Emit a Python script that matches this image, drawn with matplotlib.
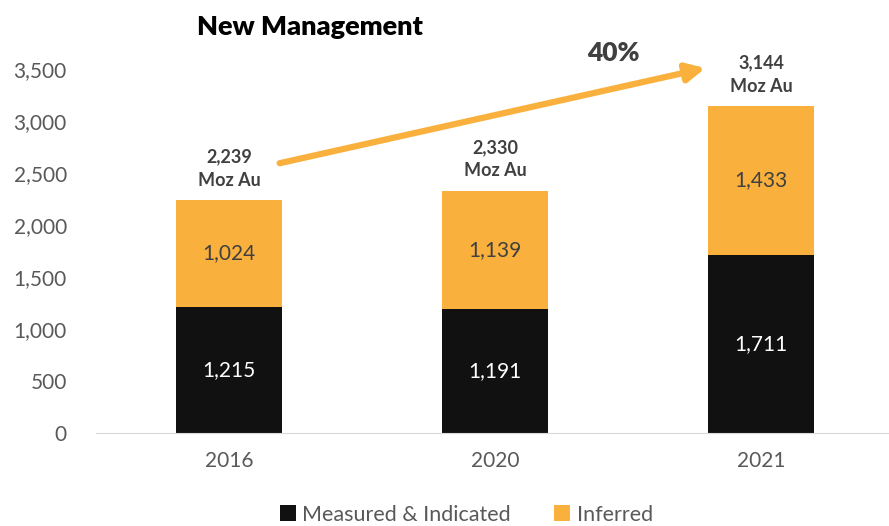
import matplotlib
matplotlib.use("Agg")
import matplotlib.pyplot as plt
import numpy as np

plt.rcParams["font.family"] = ["Lato", "DejaVu Sans"]

# ============================================================
# DATA
# ============================================================

years = ["2016", "2020", "2021"]
measured = [1215, 1191, 1711]
inferred = [1024, 1139, 1433]
totals = [2239, 2330, 3144]
growth_label = "40%"

BLACK = "#111111"
ORANGE = "#FAB03C"
GRAY = "#595959"
DARK = "#404040"

# ============================================================
# FIGURE
# ============================================================

fig = plt.figure(figsize=(8.89, 5.26), dpi=100)
ax = fig.add_axes([0.108, 0.1768, 0.892, 0.692])

x = np.arange(len(years))
width = 0.4

ax.bar(x, measured, width, color=BLACK, label="Measured & Indicated")
ax.bar(x, inferred, width, bottom=measured, color=ORANGE, label="Inferred")

for i in range(len(years)):
    ax.text(x[i], measured[i] / 2, f"{measured[i]:,}", ha="center", va="center",
            color="white", fontsize=15)
    ax.text(x[i], measured[i] + inferred[i] / 2, f"{inferred[i]:,}", ha="center",
            va="center", color=DARK, fontsize=15)
    ax.text(x[i], totals[i] + 110, f"{totals[i]:,}\nMoz Au", ha="center", va="bottom",
            color=DARK, fontsize=13, fontweight="bold", linespacing=1.45, clip_on=False)

# growth arrow from top of 2016 bar to top of 2021 bar
ax.annotate("", xy=(x[2] - width / 2 - 0.01, totals[2] + 365),
            xytext=(x[0] + width / 2 - 0.01, totals[0] + 355),
            arrowprops=dict(arrowstyle="-|>,head_length=1.1,head_width=0.55",
                            color=ORANGE, lw=4.5, shrinkA=0, shrinkB=0),
            annotation_clip=False)
ax.text(1.445, 3650, growth_label, ha="center", va="center", color=DARK,
        fontsize=19, fontweight="heavy", clip_on=False)

fig.text(0.349, 0.948, "New Management", ha="center", va="center", fontsize=19.5,
         fontweight="heavy", color="black")

ax.set_xlim(-0.5, 2.48)
ax.set_ylim(0, 3500)
ax.set_yticks(np.arange(0, 3501, 500))
ax.yaxis.set_major_formatter(matplotlib.ticker.FuncFormatter(lambda v, p: f"{int(v):,}"))
ax.set_xticks(x)
ax.set_xticklabels(years)
ax.tick_params(axis="both", length=0, labelsize=15, colors=GRAY, pad=13)
ax.tick_params(axis="y", pad=21)
for s in ["top", "right", "left"]:
    ax.spines[s].set_visible(False)
ax.spines["bottom"].set_color("#D9D9D9")

ax.legend(loc="lower center", bbox_to_anchor=(0.467, -0.305), ncol=2, frameon=False,
          fontsize=15.5, labelcolor=GRAY, handlelength=0.75, handleheight=0.75,
          handletextpad=0.3, columnspacing=2.0)

fig.savefig("out.png", dpi=100)
